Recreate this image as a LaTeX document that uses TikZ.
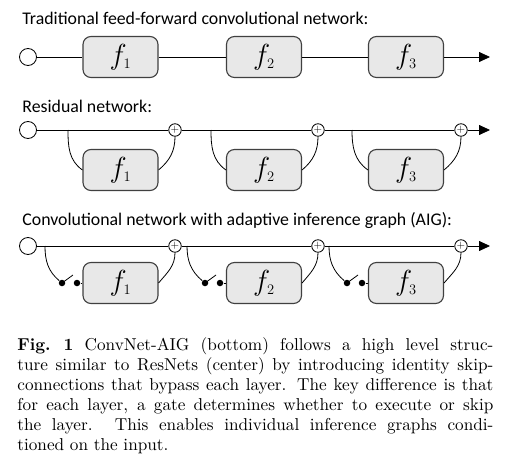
\documentclass[tikz,border=0pt]{standalone}
\usepackage{fix-cm}
\usepackage{fontspec}
\newfontfamily\titlefont{Carlito}
\newfontfamily\capfont{lmroman10-regular}[Extension=.otf, BoldFont=lmroman10-bold]
\usetikzlibrary{arrows.meta}

\begin{document}
\begin{tikzpicture}[x=1pt, y=1pt, line width=0.8pt, layer/.style={draw=black!75, fill=black!9, line width=1.1pt, rounded corners=8pt, minimum width=75pt, minimum height=41pt, inner sep=0pt, font=\fontsize{29}{29}\selectfont}, input/.style={draw, circle, fill=white, minimum size=17pt, inner sep=0pt}, plus/.style={draw, circle, fill=white, minimum size=12.5pt, inner sep=0pt, font=\fontsize{11}{11}\selectfont}, pin/.style={circle, fill=black, minimum size=6.5pt, inner sep=0pt}, heading/.style={anchor=base west, inner sep=0pt, font=\titlefont\fontsize{17.8}{17.8}\selectfont}, tip/.style={-{Triangle[length=11pt,width=10pt]}}]
	\useasboundingbox (0,0) rectangle (519,-460);
	\node[heading] (H1) at (22,-25) {Traditional feed-forward convolutional network:};
	\node[input] (I1) at (28,-57) {};
	\node[layer] (F1) at (120.5,-57) {$f_{\scriptscriptstyle 1}$};
	\node[layer] (F2) at (264,-57) {$f_{\scriptscriptstyle 2}$};
	\node[layer] (F3) at (406,-57) {$f_{\scriptscriptstyle 3}$};
	\coordinate (O1) at (490,-57);
	\draw (I1) -- (F1) -- (F2) -- (F3);
	\draw[tip] (F3) -- (O1);

	\node[heading] (H2) at (22,-112) {Residual network:};
	\node[input] (I2) at (28,-130) {};
	\node[plus] (P1) at (175,-130) {$+$};
	\node[plus] (P2) at (318,-130) {$+$};
	\node[plus] (P3) at (461,-130) {$+$};
	\coordinate (O2) at (490,-130);
	\node[layer] (R1) at (120.5,-170) {$f_{\scriptscriptstyle 1}$};
	\node[layer] (R2) at (264,-170) {$f_{\scriptscriptstyle 2}$};
	\node[layer] (R3) at (406,-170) {$f_{\scriptscriptstyle 3}$};
	\coordinate (S1) at (68,-130);
	\coordinate (S2) at (211,-130);
	\coordinate (S3) at (352,-130);
	\draw (I2) -- (P1) -- (P2) -- (P3);
	\draw[tip] (P3) -- (O2);
	\draw (S1) to[out=-90, in=145] (R1.west);
	\draw (S2) to[out=-90, in=145] (R2.west);
	\draw (S3) to[out=-90, in=145] (R3.west);
	\draw (R1.east) to[out=40, in=-90] (P1);
	\draw (R2.east) to[out=40, in=-90] (P2);
	\draw (R3.east) to[out=40, in=-90] (P3);

	\node[heading] (H3) at (22,-225) {Convolutional network with adaptive inference graph (AIG):};
	\node[input] (I3) at (28,-246) {};
	\node[plus] (Q1) at (175,-246) {$+$};
	\node[plus] (Q2) at (318,-246) {$+$};
	\node[plus] (Q3) at (461,-246) {$+$};
	\coordinate (O3) at (490,-246);
	\node[layer] (G1) at (120.5,-283) {$f_{\scriptscriptstyle 1}$};
	\node[layer] (G2) at (264,-283) {$f_{\scriptscriptstyle 2}$};
	\node[layer] (G3) at (406,-283) {$f_{\scriptscriptstyle 3}$};
	\coordinate (T1) at (45,-246);
	\coordinate (T2) at (187,-246);
	\coordinate (T3) at (329,-246);
	\node[pin] (D1) at (62,-283) {};
	\node[pin] (D2) at (205,-283) {};
	\node[pin] (D3) at (347,-283) {};
	\node[pin] (E1) at (77,-283) {};
	\node[pin] (E2) at (220,-283) {};
	\node[pin] (E3) at (362,-283) {};
	\coordinate (L1) at (73,-275);
	\coordinate (L2) at (216,-275);
	\coordinate (L3) at (358,-275);
	\draw (I3) -- (Q1) -- (Q2) -- (Q3);
	\draw[tip] (Q3) -- (O3);
	\draw (T1) to[out=-90, in=140] (D1);
	\draw (T2) to[out=-90, in=140] (D2);
	\draw (T3) to[out=-90, in=140] (D3);
	\draw (D1.center) -- (L1);
	\draw (D2.center) -- (L2);
	\draw (D3.center) -- (L3);
	\draw (E1) -- (G1);
	\draw (E2) -- (G2);
	\draw (E3) -- (G3);
	\draw (G1.east) to[out=50, in=-90] (Q1);
	\draw (G2.east) to[out=50, in=-90] (Q2);
	\draw (G3.east) to[out=50, in=-90] (Q3);

	\node[anchor=north west, inner sep=0pt, text width=476pt, align=justify, font=\capfont\fontsize{17.2}{20}\selectfont] (C) at (17,-337) {\textbf{Fig.~1} ConvNet-AIG (bottom) follows a high level struc-\linebreak ture similar to ResNets (center) by introducing identity skip-\linebreak connections that bypass each layer. The key difference is that\linebreak for each layer, a gate determines whether to execute or skip\linebreak the layer. This enables individual inference graphs condi-\linebreak tioned on the input.};
\end{tikzpicture}
\end{document}
